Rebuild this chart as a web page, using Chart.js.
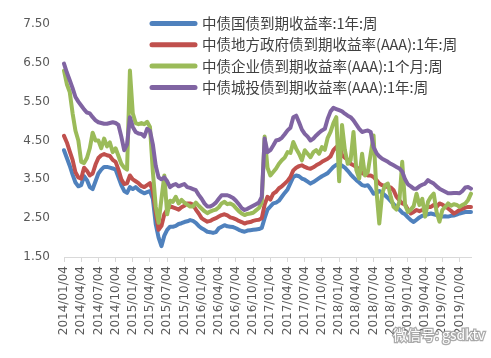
<!DOCTYPE html>
<html><head><meta charset="utf-8">
<script src="https://cdn.jsdelivr.net/npm/chart.js@4/dist/chart.umd.min.js"></script>
<style>html,body{margin:0;padding:0;background:#fff;}#wrap{width:491px;height:358px;position:relative;}</style>
</head><body><div id="wrap"><canvas id="c" width="491" height="358"></canvas></div>
<script>
// Series names (legend)
const seriesNames = [
  '中债国债到期收益率:1年:周',
  '中债地方政府债到期收益率(AAA):1年:周',
  '中债企业债到期收益率(AAA):1个月:周',
  '中债城投债到期收益率(AAA):1年:周'
];
// Tick labels shown on the x axis (quarterly)
const tickLabels = ['2014/01/04','2014/04/04','2014/07/04','2014/10/04','2015/01/04','2015/04/04','2015/07/04','2015/10/04',
  '2016/01/04','2016/04/04','2016/07/04','2016/10/04','2017/01/04','2017/04/04','2017/07/04','2017/10/04',
  '2018/01/04','2018/04/04','2018/07/04','2018/10/04','2019/01/04','2019/04/04','2019/07/04','2019/10/04'];
// Categories: semi-monthly observation dates 2014/01/04 .. 2019/12/04
const categories = [];
for (let y = 2014; y <= 2019; y++) for (let m = 1; m <= 12; m++) for (const d of ['04','19']) {
  if (y === 2019 && m === 12 && d === '19') continue;
  categories.push(y + '/' + String(m).padStart(2,'0') + '/' + d);
}
// Values (%)
const govt1y = [
  4.25,4.05,3.85,3.62,3.42,3.32,3.35,3.58,3.48,3.30,3.25,3.45,3.65,3.75,3.82,3.82,3.80,3.78,3.75,3.55,3.35,3.20,3.15,3.30,
  3.25,3.30,3.23,3.18,3.14,3.17,3.20,3.00,2.35,2.00,1.78,2.05,2.20,2.28,2.28,2.30,2.35,2.37,2.40,2.42,2.45,2.43,2.38,2.30,
  2.24,2.20,2.15,2.14,2.12,2.14,2.24,2.28,2.32,2.29,2.28,2.27,2.24,2.20,2.17,2.15,2.18,2.19,2.20,2.21,2.22,2.25,2.50,2.72,
  2.80,2.88,2.90,2.95,3.05,3.15,3.24,3.40,3.56,3.60,3.58,3.52,3.49,3.44,3.39,3.43,3.48,3.53,3.58,3.62,3.66,3.74,3.82,3.87,
  3.90,3.85,3.80,3.72,3.63,3.55,3.48,3.42,3.35,3.33,3.35,3.25,3.13,3.15,3.20,3.15,3.09,3.02,2.94,2.86,2.79,2.72,2.64,2.60,
  2.52,2.45,2.40,2.46,2.52,2.56,2.58,2.60,2.62,2.60,2.58,2.56,2.54,2.55,2.54,2.56,2.57,2.59,2.62,2.64,2.66,2.66,2.66];
const localAAA1y = [
  4.62,4.45,4.22,4.00,3.68,3.55,3.52,3.80,3.72,3.60,3.65,3.88,4.05,4.12,4.15,4.12,4.10,4.00,3.95,3.75,3.50,3.38,3.40,3.60,
  3.50,3.45,3.40,3.33,3.30,3.35,3.40,3.20,2.65,2.20,2.30,2.60,2.72,2.80,2.78,2.75,2.72,2.78,2.82,2.88,2.88,2.85,2.72,2.62,
  2.50,2.45,2.41,2.43,2.47,2.50,2.54,2.58,2.60,2.57,2.52,2.50,2.47,2.43,2.40,2.36,2.39,2.40,2.43,2.45,2.46,2.50,2.85,3.05,
  2.98,3.13,3.18,3.27,3.32,3.39,3.46,3.56,3.73,3.80,3.84,3.86,3.82,3.79,3.77,3.81,3.86,3.90,3.95,3.99,4.03,4.09,4.25,4.33,
  4.40,4.12,4.06,4.00,3.90,3.86,3.82,3.75,3.66,3.63,3.60,3.60,3.56,3.48,3.39,3.35,3.32,3.30,3.29,3.22,3.05,2.96,2.88,2.85,
  2.72,2.62,2.66,2.71,2.68,2.71,2.75,2.79,2.79,2.84,2.79,2.88,2.85,2.80,2.75,2.69,2.62,2.66,2.71,2.74,2.77,2.79,2.79];
const corpAAA1m = [
  6.30,5.95,5.75,5.20,4.75,4.50,3.95,3.92,4.05,4.30,4.70,4.50,4.50,4.30,4.55,4.35,4.45,4.20,4.30,4.10,3.90,3.80,3.75,6.30,
  5.20,4.95,4.92,4.95,4.92,4.98,4.85,3.70,2.80,2.38,3.00,3.60,2.60,2.95,2.92,3.05,2.88,2.97,2.90,2.85,2.80,2.80,2.90,2.82,
  2.75,2.68,2.63,2.67,2.70,2.72,2.78,2.88,2.92,2.86,2.88,2.84,2.76,2.68,2.62,2.58,2.61,2.62,2.64,2.70,2.76,2.90,4.60,3.80,
  3.60,3.69,3.78,3.90,3.99,4.06,4.20,4.18,4.46,4.29,4.16,3.99,4.25,4.16,4.07,4.20,4.25,4.16,4.33,4.26,4.57,4.72,4.95,5.10,
  3.45,4.90,4.25,3.90,3.99,4.72,3.74,3.52,4.16,3.60,3.69,4.16,4.63,3.22,2.36,3.13,3.35,3.39,3.05,2.79,2.72,2.92,3.95,2.84,
  2.66,2.72,2.81,3.13,2.84,3.00,2.54,2.92,3.05,3.13,2.66,2.41,2.71,2.79,2.88,2.82,2.86,2.84,2.79,2.84,2.88,2.97,3.13];
const lgfvAAA1y = [
  6.48,6.25,6.05,5.85,5.62,5.50,5.40,5.30,5.22,5.20,5.10,5.02,4.97,4.95,4.93,4.93,4.95,4.97,4.95,4.90,4.60,4.25,4.40,5.10,
  4.85,4.72,4.68,4.67,4.60,4.80,4.75,4.40,3.85,3.55,3.50,3.55,3.45,3.30,3.35,3.38,3.32,3.35,3.38,3.30,3.28,3.25,3.22,3.10,
  3.00,2.88,2.80,2.80,2.84,2.90,3.00,3.09,3.09,3.09,3.06,3.02,2.95,2.86,2.76,2.71,2.74,2.78,2.82,2.86,2.90,3.05,4.55,4.20,
  4.25,4.37,4.50,4.52,4.57,4.66,4.76,4.83,5.10,5.14,4.97,4.78,4.67,4.60,4.50,4.55,4.63,4.70,4.76,4.80,5.06,5.25,5.34,5.31,
  5.28,5.25,5.19,5.14,5.10,5.02,4.91,4.80,4.72,4.74,4.76,4.72,4.33,4.18,4.09,4.03,3.99,3.95,3.90,3.86,3.82,3.78,3.70,3.50,
  3.37,3.32,3.26,3.26,3.32,3.36,3.39,3.48,3.43,3.39,3.32,3.26,3.22,3.18,3.14,3.14,3.15,3.15,3.14,3.20,3.29,3.30,3.26];
const seriesColors = ['#4F81BD','#C0504D','#9BBB59','#8064A2'];
const seriesValues = [govt1y, localAAA1y, corpAAA1m, lgfvAAA1y];

Chart.defaults.font.family = "'DejaVu Sans', 'Noto Sans CJK SC', sans-serif";
Chart.defaults.color = '#595959';

const legendPlugin = {
  id: 'insideLegend',
  afterDatasetsDraw(chart) {
    const c = chart.ctx;
    c.save();
    c.font = "14.5px 'Noto Sans CJK SC', 'DejaVu Sans', sans-serif";
    c.textBaseline = 'middle';
    c.textAlign = 'left';
    seriesNames.forEach((name, i) => {
      const y = 23.5 + i * 21.3;
      c.strokeStyle = seriesColors[i];
      c.lineWidth = 5;
      c.lineCap = 'round';
      c.beginPath(); c.moveTo(152, y); c.lineTo(195, y); c.stroke();
      c.fillStyle = '#404040';
      c.fillText(name, 202, y);
    });
    c.restore();
  }
};
const watermarkPlugin = {
  id: 'watermark',
  afterDraw(chart) {
    const c = chart.ctx;
    c.save();
    c.font = "14px 'Noto Sans CJK SC', sans-serif";
    c.textBaseline = 'middle';
    c.lineWidth = 2.5;
    c.strokeStyle = 'rgba(150,150,150,0.8)';
    c.fillStyle = '#ffffff';
    c.strokeText('微信号: gsdktv', 393, 335);
    c.fillText('微信号: gsdktv', 393, 335);
    c.restore();
  }
};

new Chart(document.getElementById('c'), {
  type: 'line',
  data: {
    labels: categories,
    datasets: seriesValues.map((vals, i) => ({
      label: seriesNames[i],
      data: vals,
      borderColor: seriesColors[i],
      backgroundColor: seriesColors[i],
      order: 3 - i
    }))
  },
  options: {
    responsive: false,
    animation: false,
    devicePixelRatio: 1,
    layout: { padding: { top: 24, right: 20, bottom: 0, left: 0 } },
    plugins: { legend: { display: false }, tooltip: { enabled: false } },
    elements: {
      point: { radius: 0 },
      line: { borderWidth: 4, tension: 0, borderJoinStyle: 'round', borderCapStyle: 'round' }
    },
    scales: {
      x: {
        type: 'category',
        offset: false,
        grid: { display: true, drawOnChartArea: false, drawTicks: true, tickLength: 5, color: '#D9D9D9', lineWidth: 1 },
        border: { display: true, color: '#D9D9D9', width: 1 },
        ticks: { autoSkip: false, maxRotation: 90, minRotation: 90, padding: 4, font: { size: 12 }, color: '#595959' },
        afterBuildTicks: ax => { ax.ticks = ax.ticks.filter(t => tickLabels.includes(categories[t.value])); },
        afterFit: ax => { ax.height = 101; }
      },
      y: {
        min: 1.5, max: 7.5,
        ticks: { stepSize: 1, padding: 14, font: { size: 12 }, color: '#595959', callback: v => Number(v).toFixed(2) },
        grid: { display: false, drawTicks: false },
        border: { display: false },
        afterFit: ax => { ax.width = 64; }
      }
    }
  },
  plugins: [legendPlugin, watermarkPlugin]
});
</script></body></html>
